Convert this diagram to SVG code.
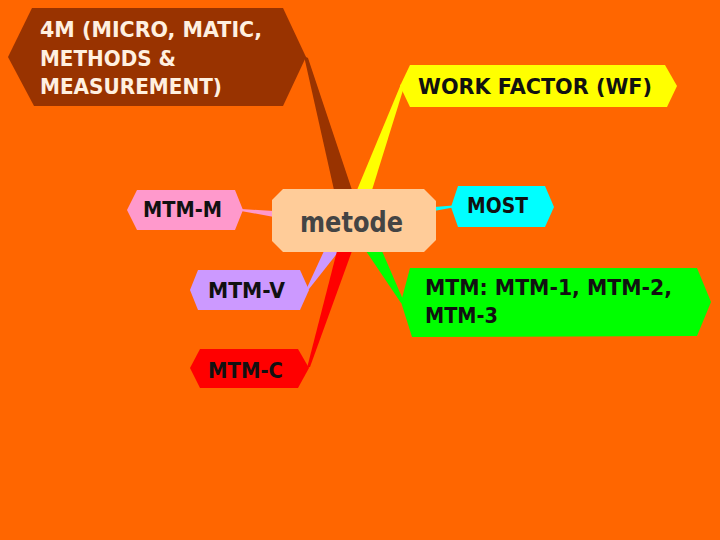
<svg xmlns="http://www.w3.org/2000/svg" width="720" height="540" viewBox="0 0 720 540">
<style>
.t{font-family:"DejaVu Sans","Liberation Sans",sans-serif;font-weight:bold;fill:#111;}
.w{fill:#FFF0E0;}
.c{font-family:"DejaVu Sans","Liberation Sans",sans-serif;font-weight:bold;fill:#444;}
</style>
<rect width="720" height="540" fill="#FF6600"/>
<g id="connectors">
<polygon points="304,56 308,58 352,190 334,190" fill="#993300"/>
<polygon points="401,84 404,87 372,190 357,190" fill="#FFFF00"/>
<polygon points="241,209 241,211 274,217 274,211" fill="#FF99CC"/>
<polygon points="434,207 453,205.5 453,207.5 434,211" fill="#00FFFF"/>
<polygon points="306,290 309,289 339,251 324,251" fill="#CC99FF"/>
<polygon points="307,368 310,367 352,251 337,251" fill="#FF0000"/>
<polygon points="366,251 382,251 404,302 401,303" fill="#00FF00"/>
</g>
<g id="node-4m">
<polygon points="8,57 32,8 283,8 306,57 283,106 34,106" fill="#993300"/>
<text class="t w" font-size="20.5" x="40" y="37" textLength="222" lengthAdjust="spacingAndGlyphs">4M (MICRO, MATIC,</text>
<text class="t w" font-size="20.5" x="40" y="66" textLength="136" lengthAdjust="spacingAndGlyphs">METHODS &amp;</text>
<text class="t w" font-size="20.5" x="40" y="94" textLength="182" lengthAdjust="spacingAndGlyphs">MEASUREMENT)</text>
</g>
<g id="node-wf">
<polygon points="400,86 410,65 665,65 677,86 667,107 410,107" fill="#FFFF00"/>
<text class="t" font-size="22" x="418" y="93.5" textLength="234" lengthAdjust="spacingAndGlyphs">WORK FACTOR (WF)</text>
</g>
<g id="node-metode">
<polygon points="283,189 424,189 436,201 436,240 424,252 283,252 272,241 272,200" fill="#FFCC99"/>
<text class="c" font-size="29" x="300" y="232" textLength="103" lengthAdjust="spacingAndGlyphs">metode</text>
</g>
<g id="node-mtm-m">
<polygon points="127,210 137,190 235,190 243,210 235,230 137,230" fill="#FF99CC"/>
<text class="t" font-size="21" x="143" y="217" textLength="79" lengthAdjust="spacingAndGlyphs">MTM-M</text>
</g>
<g id="node-most">
<polygon points="451,207 458,186 545,186 554,207 545,227 458,227" fill="#00FFFF"/>
<text class="t" font-size="22" x="467" y="213" textLength="61" lengthAdjust="spacingAndGlyphs">MOST</text>
</g>
<g id="node-mtm-v">
<polygon points="190,290 198,270 300,270 309,290 300,310 198,310" fill="#CC99FF"/>
<text class="t" font-size="22" x="208" y="297.5" textLength="77" lengthAdjust="spacingAndGlyphs">MTM-V</text>
</g>
<g id="node-mtm-c">
<polygon points="190,368 200,349 298,349 309,368 298,388 200,388" fill="#FF0000"/>
<text class="t" font-size="22" x="208" y="377.5" textLength="75" lengthAdjust="spacingAndGlyphs">MTM-C</text>
</g>
<g id="node-mtm">
<polygon points="401,302 410,268 697,268 711,302 697,336 412,337" fill="#00FF00"/>
<text class="t" font-size="21" x="425" y="295" textLength="247" lengthAdjust="spacingAndGlyphs">MTM: MTM-1, MTM-2,</text>
<text class="t" font-size="21" x="425" y="322.5" textLength="73" lengthAdjust="spacingAndGlyphs">MTM-3</text>
</g>
</svg>
